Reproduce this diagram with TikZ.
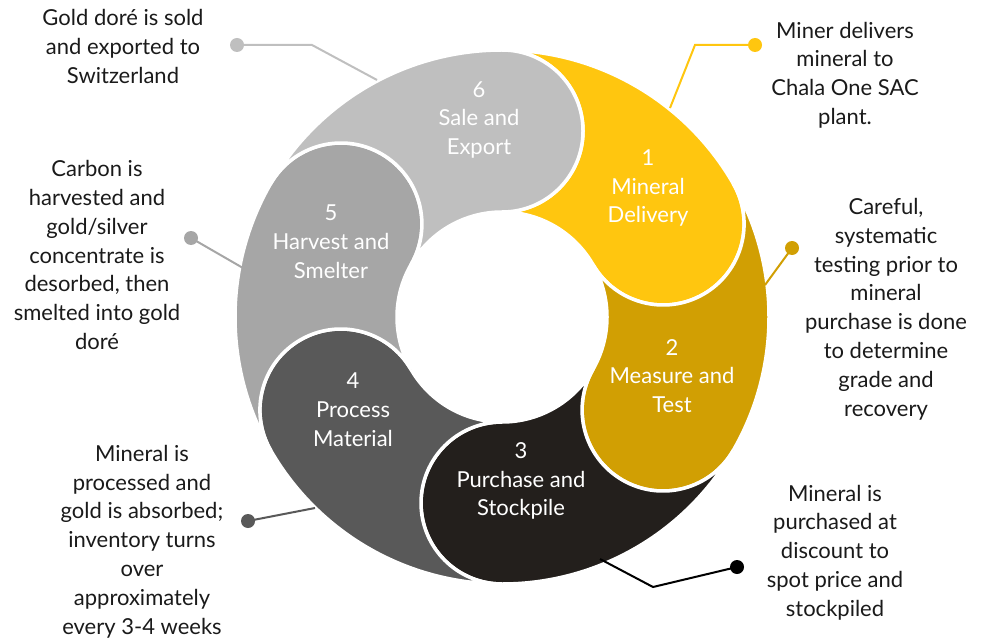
\documentclass[tikz,border=0pt]{standalone}
\usepackage{fontspec}
\setmainfont{Lato}
\definecolor{cA}{HTML}{FFC60F}
\definecolor{cB}{HTML}{D19F03}
\definecolor{cC}{HTML}{231F1C}
\definecolor{cD}{HTML}{595959}
\definecolor{cE}{HTML}{A6A6A6}
\definecolor{cF}{HTML}{BFBFBF}
\definecolor{textc}{HTML}{1A1A1A}
\newcommand{\Ro}{267}
\newcommand{\Ri}{105}
\newcommand{\Rc}{81}
\newcommand{\petalshape}[3]{%
  \path[fill=#3, draw=white, line width=3.5pt, shift={(502,-317)}]
    (#1:\Ro) arc[start angle=#1, end angle=#2, radius=\Ro]
    arc[start angle=#2, end angle=#2-180, radius=\Rc]
    arc[start angle=#2, end angle=#1, radius=\Ri]
    arc[start angle=#1-180, end angle=#1, radius=\Rc] -- cycle;}
\begin{document}
\begin{tikzpicture}[x=1pt,y=1pt,
  txt/.style={align=center, text=textc, font=\fontsize{22}{28.8}\selectfont, inner sep=0pt},
  lab/.style={align=center, text=white, font=\fontsize{22}{28.8}\selectfont, inner sep=0pt},
  dot/.style={circle, inner sep=0pt, minimum size=14pt},
  conn/.style={line width=2pt}]
\useasboundingbox (0,0) rectangle (981,-644);
\coordinate (O) at (502,-317);
% petals
\petalshape{90}{30}{cA}
\petalshape{30}{-30}{cB}
\petalshape{-30}{-90}{cC}
\petalshape{-90}{-150}{cD}
\petalshape{210}{150}{cE}
\petalshape{150}{90}{cF}
% petal labels
\node[lab] (l6) at (479,-120) {6\\Sale and\\Export};
\node[lab] (l1) at (648,-188) {1\\Mineral\\Delivery};
\node[lab] (l2) at (672,-376) {2\\Measure and\\Test};
\node[lab] (l3) at (521,-481) {3\\Purchase and\\Stockpile};
\node[lab] (l4) at (353,-410) {4\\Process\\Material};
\node[lab] (l5) at (331,-242) {5\\Harvest and\\Smelter};
% callout anchors
\coordinate (e6) at (377,-80);
\coordinate (b6) at (312,-45);
\coordinate (e1) at (670,-108);
\coordinate (b1) at (695,-45);
\coordinate (e2) at (765,-285);
\coordinate (e3) at (600,-559);
\coordinate (b3) at (653,-587);
\coordinate (e4) at (315,-508);
\coordinate (e5) at (243,-268);
% dots
\node[dot, fill=cF] (d6) at (237,-45) {};
\node[dot, fill=cA] (d1) at (755,-45) {};
\node[dot, fill=cB] (d2) at (792,-248) {};
\node[dot, fill=black] (d3) at (737,-567) {};
\node[dot, fill=cD] (d4) at (248,-521) {};
\node[dot, fill=cE] (d5) at (191,-238) {};
% connectors
\draw[conn, cF] (d6.center) -- (b6) -- (e6);
\draw[conn, cA] (d1.center) -- (b1) -- (e1);
\draw[conn, cB] (d2.center) -- (e2);
\draw[conn, black] (d3.center) -- (b3) -- (e3);
\draw[conn, cD] (d4.center) -- (e4);
\draw[conn, cE] (d5.center) -- (e5);
% callout texts
\node[txt] (t6) at (123,-46.5) {Gold dor\'e is sold\\and exported to\\Switzerland};
\node[txt] (t1) at (845,-75) {Miner delivers\\mineral to\\Chala One SAC\\plant.};
\node[txt] (t2) at (886,-309) {Careful,\\systematic\\testing prior to\\mineral\\purchase is done\\to determine\\grade and\\recovery};
\node[txt] (t3) at (835,-552.5) {Mineral is\\purchased at\\discount to\\spot price and\\stockpiled};
\node[txt] (t4) at (142,-541.5) {Mineral is\\processed and\\gold is absorbed;\\inventory turns\\over\\approximately\\every 3-4 weeks};
\node[txt] (t5) at (97,-255) {Carbon is\\harvested and\\gold/silver\\concentrate is\\desorbed, then\\smelted into gold\\dor\'e};
\end{tikzpicture}
\end{document}
